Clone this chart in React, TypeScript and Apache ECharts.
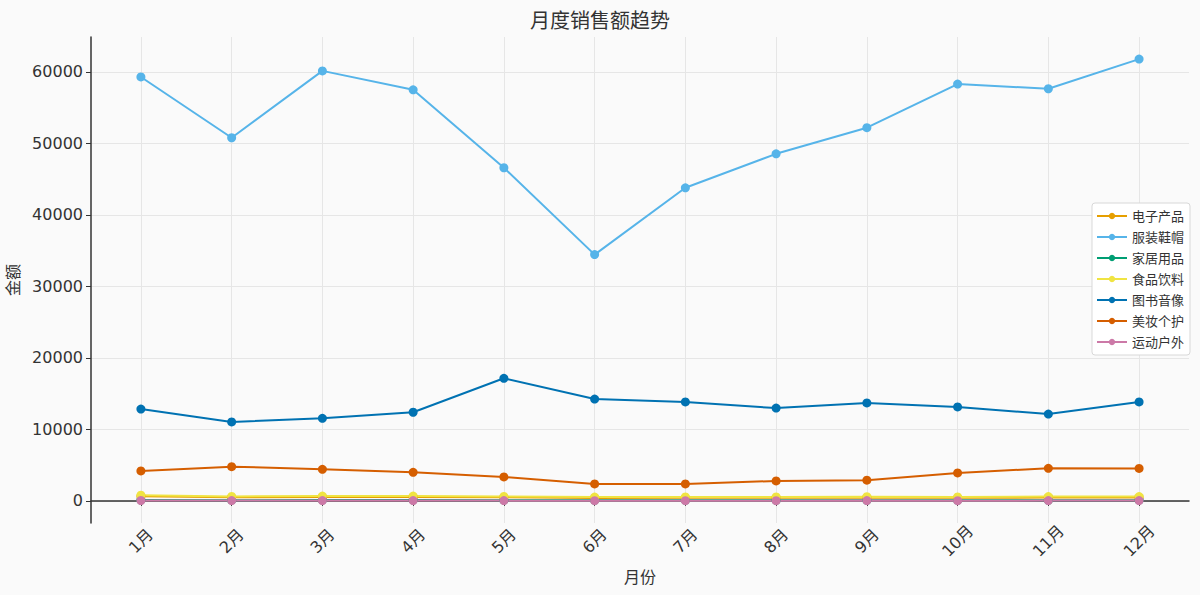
import React, { useEffect, useRef } from "react";
import * as echarts from "echarts";

const months = [1, 2, 3, 4, 5, 6, 7, 8, 9, 10, 11, 12];
const seriesNames = ["电子产品", "服装鞋帽", "家居用品", "食品饮料", "图书音像", "美妆个护", "运动户外"];
const seriesColors = ["#E69F00", "#56B4E9", "#009E73", "#F0E442", "#0072B2", "#D55E00", "#CC79A7"];

const orangeValues = [650, 500, 550, 550, 500, 420, 430, 430, 460, 430, 470, 470];
const skyValues = [59300, 50800, 60150, 57500, 46600, 34450, 43800, 48550, 52200, 58300, 57650, 61800];
const greenValues = [120, 100, 110, 110, 100, 80, 90, 90, 95, 90, 95, 100];
const yellowValues = [800, 620, 680, 680, 630, 540, 560, 560, 580, 560, 600, 600];
const blueValues = [12850, 11050, 11550, 12400, 17150, 14250, 13850, 12980, 13700, 13150, 12150, 13850];
const vermillionValues = [4200, 4790, 4420, 4000, 3350, 2380, 2370, 2790, 2900, 3910, 4560, 4550];
const pinkValues = [60, 40, 50, 50, 40, 30, 35, 35, 40, 35, 40, 45];

const allValues = [orangeValues, skyValues, greenValues, yellowValues, blueValues, vermillionValues, pinkValues];
const yTicks = [0, 10000, 20000, 30000, 40000, 50000, 60000];

const titleText = "月度销售额趋势";
const xName = "月份";
const yName = "金额";

const FONT = "'DejaVu Sans', 'Noto Sans CJK SC', sans-serif";

export default function App() {
  const ref = useRef<HTMLDivElement>(null);
  useEffect(() => {
    document.body.style.margin = "0";
    if (!ref.current) return;
    const chart = echarts.init(ref.current, undefined, { renderer: "svg" });
    const series = seriesNames.map((name, i) => ({
      name,
      type: "line",
      data: months.map((m, j) => [m, allValues[i][j]]),
      symbol: "circle",
      symbolSize: 9,
      lineStyle: { width: 2, color: seriesColors[i] },
      itemStyle: { color: seriesColors[i] },
      emphasis: { disabled: true },
    }));
    chart.setOption({
      animation: false,
      backgroundColor: "#fafafa",
      textStyle: { fontFamily: FONT },
      title: {
        text: titleText,
        left: "center",
        top: 6,
        textStyle: { fontSize: 20, fontWeight: "normal", color: "#333", fontFamily: FONT },
      },
      legend: {
        orient: "vertical",
        right: 10,
        top: 203,
        itemWidth: 30,
        itemHeight: 8,
        itemGap: 7,
        padding: [6, 6, 6, 4],
        backgroundColor: "#ffffff",
        borderColor: "#d8d8d8",
        borderWidth: 1,
        borderRadius: 3,
        textStyle: { fontSize: 13, color: "#333", lineHeight: 14, fontFamily: FONT },
        data: seriesNames,
      },
      grid: {
        left: 91,
        right: 11,
        top: 37,
        bottom: 72,
        containLabel: false,
        outerBoundsMode: "none",
      },
      xAxis: {
        type: "value",
        min: 0.45,
        max: 12.55,
        name: xName,
        nameLocation: "middle",
        nameGap: 46,
        nameTextStyle: { fontSize: 16, color: "#333", fontFamily: FONT },
        axisLine: { show: true, lineStyle: { color: "#333", width: 1.5 } },
        axisTick: { show: true, length: 5, customValues: months, lineStyle: { color: "#333" } },
        axisLabel: {
          customValues: months,
          formatter: (v: number) => `${v}月`,
          rotate: 45,
          align: "center",
          verticalAlign: "middle",
          margin: 18,
          fontSize: 16,
          color: "#333",
          fontFamily: FONT,
        },
        splitLine: { show: true, lineStyle: { color: "#e6e6e6", width: 1 } },
      },
      yAxis: {
        type: "value",
        min: -3090,
        max: 64890,
        name: yName,
        nameLocation: "middle",
        nameGap: 52,
        nameTextStyle: { fontSize: 16, color: "#333", fontFamily: FONT },
        axisLine: { show: true, lineStyle: { color: "#333", width: 1.5 } },
        axisTick: { show: true, length: 5, customValues: yTicks, lineStyle: { color: "#333" } },
        axisLabel: {
          customValues: yTicks,
          formatter: (v: number) => String(Math.round(v)),
          margin: 8,
          fontSize: 16,
          color: "#333",
          fontFamily: FONT,
        },
        splitLine: { show: true, lineStyle: { color: "#e6e6e6", width: 1 } },
      },
      series,
    });
    return () => chart.dispose();
  }, []);
  return <div ref={ref} style={{ width: 1200, height: 595 }} />;
}
